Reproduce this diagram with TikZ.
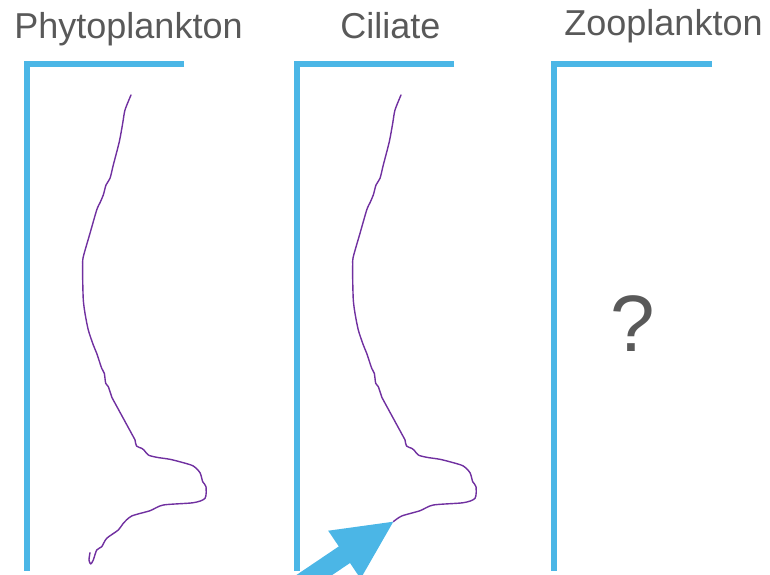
\documentclass[tikz,border=0pt]{standalone}
\usepackage{fontspec}
\setmainfont{Liberation Sans}
\definecolor{panelblue}{RGB}{75,182,230}
\definecolor{profile}{RGB}{112,48,160}
\definecolor{labelgray}{RGB}{89,89,89}
\begin{document}
\begin{tikzpicture}[x=1pt,y=-1pt,
  frame/.style={draw=panelblue,line width=5.5pt,line join=miter},
  trace/.style={draw=profile,line width=1.4pt,line join=round,line cap=round},
  title/.style={text=labelgray,font=\fontsize{36}{36}\selectfont,anchor=base,inner sep=0pt}]
\useasboundingbox (0,0) rectangle (770,574);
\clip (0,0) rectangle (770,574);

% panel titles
\node[title] (tphyto) at (128.5,38.5) {Phytoplankton};
\node[title] (tcil) at (390.5,38.5) {Ciliate};
\node[title] (tzoo) at (663.5,35) {Zooplankton};

% panel frames (top bar and left axis)
\draw[frame] (184,64) -- (27,64) -- (27,571);
\draw[frame] (454,64) -- (297,64) -- (297,571);
\draw[frame] (712,64) -- (554,64) -- (554,571);

% vertical profile, phytoplankton
\draw[trace] plot[smooth,tension=0.45] coordinates {
 (131,95) (125,110) (122.7,123.3) (119.3,141.7) (113.3,165) (110,178.3)
 (106,185) (103.3,195) (100,202.7) (96.7,210) (90,233.3) (83.3,256.7)
 (82.7,265) (82.7,280) (83.3,300) (85,313.3) (88.3,330) (93.3,345)
 (96.7,353.3) (101.7,368.3) (104.3,373.3) (105.7,383.3) (108.3,386.7)
 (111.7,396.7) (113.3,400) (133.3,436.7) (135,440) (136.5,446)
 (141.7,448.3) (144,450) (148.3,455) (156.7,457.3) (170,459.3)
 (183.3,462.7) (193.3,466) (200,472.7) (202.7,481.7) (206,486.7)
 (205,498.3) (193.3,502.7) (163.3,505) (150,510.7) (131.7,516)
 (123.3,523.3) (118.3,530) (106.7,538.3) (101.7,546.7) (96.7,550)
 (93.3,560) (90.7,564) (89,560) (90,552.7)};

% vertical profile, ciliate (same shape, ends at the arrow tip)
\begin{scope}[xshift=270pt]
\draw[trace] plot[smooth,tension=0.45] coordinates {
 (131,95) (125,110) (122.7,123.3) (119.3,141.7) (113.3,165) (110,178.3)
 (106,185) (103.3,195) (100,202.7) (96.7,210) (90,233.3) (83.3,256.7)
 (82.7,265) (82.7,280) (83.3,300) (85,313.3) (88.3,330) (93.3,345)
 (96.7,353.3) (101.7,368.3) (104.3,373.3) (105.7,383.3) (108.3,386.7)
 (111.7,396.7) (113.3,400) (133.3,436.7) (135,440) (136.5,446)
 (141.7,448.3) (144,450) (148.3,455) (156.7,457.3) (170,459.3)
 (183.3,462.7) (193.3,466) (200,472.7) (202.7,481.7) (206,486.7)
 (205,498.3) (193.3,502.7) (163.3,505) (150,510.7) (131.7,516)
 (123.3,521.7)};
\end{scope}

% block arrow pointing at the ciliate profile
\fill[panelblue] (393.3,521.7) -- (328.2,530.7) -- (338.8,546.4)
  -- (255.9,602.3) -- (267.1,618.9) -- (350,563) -- (360.6,578.7) -- cycle;

% unknown zooplankton profile
\node[text=labelgray,font=\fontsize{80}{80}\selectfont,anchor=base,inner sep=0pt] (qzoo) at (633,351.5) {?};
\end{tikzpicture}
\end{document}
